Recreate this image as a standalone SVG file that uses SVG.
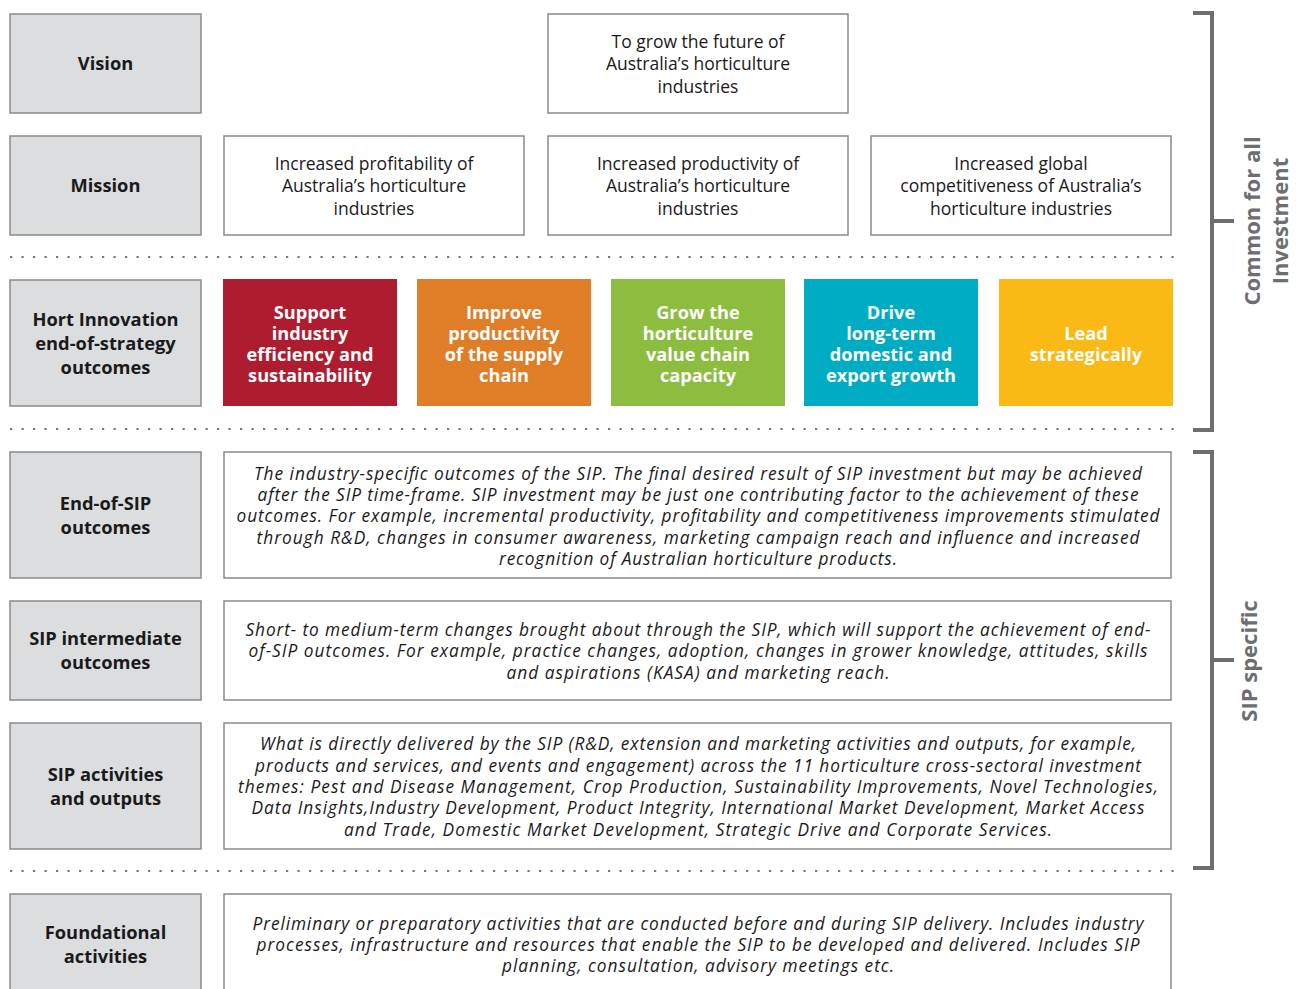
<svg xmlns="http://www.w3.org/2000/svg" width="1299" height="989" viewBox="0 0 1299 989">
<style>
.lab{fill:#dcdddf;stroke:#8a8a8a;stroke-width:1.5}
.wb{fill:#fff;stroke:#8a8a8a;stroke-width:1.5}
.lt{font-family:"Open Sans","Liberation Sans",sans-serif;font-weight:bold;font-size:18.3px;fill:#1a1a1a;text-anchor:middle}
.mt{font-family:"Open Sans","Liberation Sans",sans-serif;font-size:17.5px;fill:#1a1a1a;text-anchor:middle}
.ct{font-family:"Open Sans","Liberation Sans",sans-serif;font-weight:bold;font-size:18.2px;fill:#fff;text-anchor:middle}
.it{font-family:"Open Sans","Liberation Sans",sans-serif;font-style:italic;font-size:17.3px;fill:#1a1a1a;text-anchor:middle}
.dots{stroke:#6b7d7a;stroke-width:2.2;stroke-dasharray:2.2 9.3;fill:none}
.br{stroke:#6d6e71;stroke-width:4;fill:none;stroke-linejoin:miter}
.bt{font-family:"Open Sans","Liberation Sans",sans-serif;font-weight:bold;font-size:22px;fill:#6d6e71;text-anchor:middle}
</style>
<g id="separators">
<line class="dots" x1="10" y1="257" x2="1174" y2="257"/>
<line class="dots" x1="10" y1="429" x2="1174" y2="429"/>
<line class="dots" x1="10" y1="871" x2="1174" y2="871"/>
</g>
<g id="vision">
<rect class="lab" x="10" y="14" width="191" height="99"/>
<text class="lt" x="105.5" y="70">Vision</text>
</g>
<g id="vision-text">
<rect class="wb" x="548" y="14" width="300" height="99"/>
<text class="mt" x="698" y="48">To grow the future of</text>
<text class="mt" x="698" y="70">Australia’s horticulture</text>
<text class="mt" x="698" y="93">industries</text>
</g>
<g id="mission">
<rect class="lab" x="10" y="136" width="191" height="99"/>
<text class="lt" x="105.5" y="192">Mission</text>
</g>
<g id="mission-1">
<rect class="wb" x="224" y="136" width="300" height="99"/>
<text class="mt" x="374" y="170">Increased profitability of</text>
<text class="mt" x="374" y="192">Australia’s horticulture</text>
<text class="mt" x="374" y="215">industries</text>
</g>
<g id="mission-2">
<rect class="wb" x="548" y="136" width="300" height="99"/>
<text class="mt" x="698" y="170">Increased productivity of</text>
<text class="mt" x="698" y="192">Australia’s horticulture</text>
<text class="mt" x="698" y="215">industries</text>
</g>
<g id="mission-3">
<rect class="wb" x="871" y="136" width="300" height="99"/>
<text class="mt" x="1021" y="170">Increased global</text>
<text class="mt" x="1021" y="192">competitiveness of Australia’s</text>
<text class="mt" x="1021" y="215">horticulture industries</text>
</g>
<g id="hort-outcomes">
<rect class="lab" x="10" y="280" width="191" height="126"/>
<text class="lt" x="105.5" y="326">Hort Innovation</text>
<text class="lt" x="105.5" y="350">end-of-strategy</text>
<text class="lt" x="105.5" y="374">outcomes</text>
</g>
<g id="outcome-1">
<rect x="223" y="279" width="174" height="127" fill="#ae1c2f"/>
<text class="ct" x="310" y="319">Support</text>
<text class="ct" x="310" y="340">industry</text>
<text class="ct" x="310" y="361">efficiency and</text>
<text class="ct" x="310" y="382">sustainability</text>
</g>
<g id="outcome-2">
<rect x="417" y="279" width="174" height="127" fill="#e07d27"/>
<text class="ct" x="504" y="319">Improve</text>
<text class="ct" x="504" y="340">productivity</text>
<text class="ct" x="504" y="361">of the supply</text>
<text class="ct" x="504" y="382">chain</text>
</g>
<g id="outcome-3">
<rect x="611" y="279" width="174" height="127" fill="#8cbd3f"/>
<text class="ct" x="698" y="319">Grow the</text>
<text class="ct" x="698" y="340">horticulture</text>
<text class="ct" x="698" y="361">value chain</text>
<text class="ct" x="698" y="382">capacity</text>
</g>
<g id="outcome-4">
<rect x="804" y="279" width="174" height="127" fill="#00acc4"/>
<text class="ct" x="891" y="319">Drive</text>
<text class="ct" x="891" y="340">long-term</text>
<text class="ct" x="891" y="361">domestic and</text>
<text class="ct" x="891" y="382">export growth</text>
</g>
<g id="outcome-5">
<rect x="999" y="279" width="174" height="127" fill="#fbb915"/>
<text class="ct" x="1086" y="340">Lead</text>
<text class="ct" x="1086" y="361">strategically</text>
</g>
<g id="end-sip">
<rect class="lab" x="10" y="452" width="191" height="126"/>
<text class="lt" x="105.5" y="510">End-of-SIP</text>
<text class="lt" x="105.5" y="534">outcomes</text>
</g>
<g id="end-sip-text">
<rect class="wb" x="224" y="452" width="947" height="126"/>
<text class="it" x="698" y="480" textLength="888">The industry-specific outcomes of the SIP. The final desired result of SIP investment but may be achieved</text>
<text class="it" x="698" y="501" textLength="881">after the SIP time-frame. SIP investment may be just one contributing factor to the achievement of these</text>
<text class="it" x="698" y="522" textLength="923">outcomes. For example, incremental productivity, profitability and competitiveness improvements stimulated</text>
<text class="it" x="698" y="544" textLength="883">through R&amp;D, changes in consumer awareness, marketing campaign reach and influence and increased</text>
<text class="it" x="698" y="565" textLength="398">recognition of Australian horticulture products.</text>
</g>
<g id="sip-intermediate">
<rect class="lab" x="10" y="601" width="191" height="99"/>
<text class="lt" x="105.5" y="645">SIP intermediate</text>
<text class="lt" x="105.5" y="669">outcomes</text>
</g>
<g id="sip-intermediate-text">
<rect class="wb" x="224" y="601" width="947" height="99"/>
<text class="it" x="698" y="636" textLength="905">Short- to medium-term changes brought about through the SIP, which will support the achievement of end-</text>
<text class="it" x="698" y="657" textLength="899">of-SIP outcomes. For example, practice changes, adoption, changes in grower knowledge, attitudes, skills</text>
<text class="it" x="698" y="679" textLength="383">and aspirations (KASA) and marketing reach.</text>
</g>
<g id="sip-activities">
<rect class="lab" x="10" y="723" width="191" height="126"/>
<text class="lt" x="105.5" y="781">SIP activities</text>
<text class="lt" x="105.5" y="805">and outputs</text>
</g>
<g id="sip-activities-text">
<rect class="wb" x="224" y="723" width="947" height="126"/>
<text class="it" x="698" y="750" textLength="876">What is directly delivered by the SIP (R&amp;D, extension and marketing activities and outputs, for example,</text>
<text class="it" x="698" y="772" textLength="886">products and services, and events and engagement) across the 11 horticulture cross-sectoral investment</text>
<text class="it" x="698" y="793" textLength="920">themes: Pest and Disease Management, Crop Production, Sustainability Improvements, Novel Technologies,</text>
<text class="it" x="698" y="814" textLength="893">Data Insights,Industry Development, Product Integrity, International Market Development, Market Access</text>
<text class="it" x="698" y="836" textLength="708">and Trade, Domestic Market Development, Strategic Drive and Corporate Services.</text>
</g>
<g id="foundational">
<rect class="lab" x="10" y="894" width="191" height="100"/>
<text class="lt" x="105.5" y="939">Foundational</text>
<text class="lt" x="105.5" y="963">activities</text>
</g>
<g id="foundational-text">
<rect class="wb" x="224" y="894" width="947" height="100"/>
<text class="it" x="698" y="930" textLength="891">Preliminary or preparatory activities that are conducted before and during SIP delivery. Includes industry</text>
<text class="it" x="698" y="951" textLength="883">processes, infrastructure and resources that enable the SIP to be developed and delivered. Includes SIP</text>
<text class="it" x="698" y="972" textLength="392">planning, consultation, advisory meetings etc.</text>
</g>
<g id="bracket-common">
<polyline class="br" points="1193,13 1212,13 1212,430 1193,430"/>
<line class="br" x1="1212" y1="221" x2="1234" y2="221"/>
<text class="bt" transform="translate(1260,221) rotate(-90)">Common for all</text>
<text class="bt" transform="translate(1288,221) rotate(-90)">Investment</text>
</g>
<g id="bracket-sip">
<polyline class="br" points="1193,452 1212,452 1212,868 1193,868"/>
<line class="br" x1="1212" y1="660" x2="1234" y2="660"/>
<text class="bt" transform="translate(1257,661) rotate(-90)">SIP specific</text>
</g>
</svg>
